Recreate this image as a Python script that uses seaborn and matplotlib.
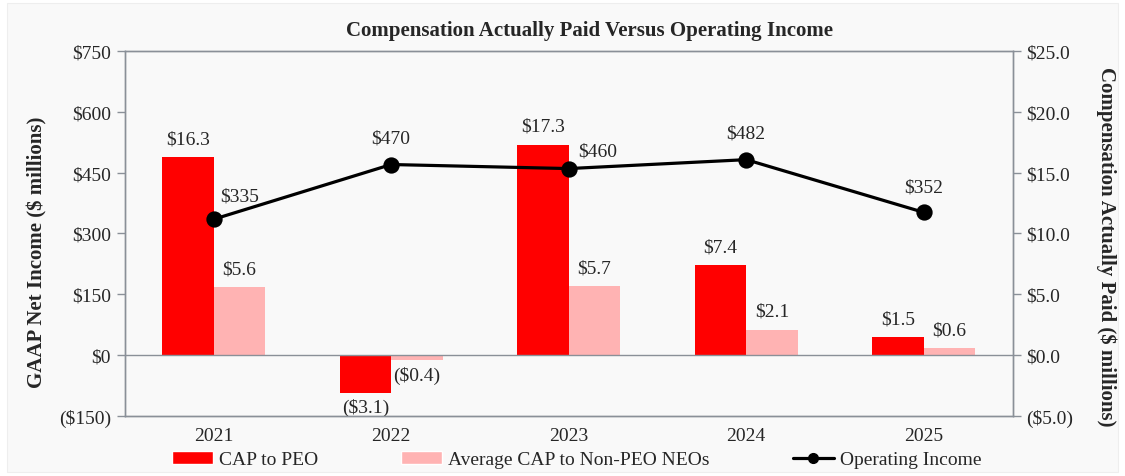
import matplotlib
matplotlib.use("Agg")
import matplotlib.pyplot as plt
import seaborn as sns
import pandas as pd
import numpy as np
from matplotlib.patches import Patch, Rectangle
from matplotlib.lines import Line2D
from matplotlib.ticker import FuncFormatter

years = ["2021", "2022", "2023", "2024", "2025"]
cap_peo = [16.3, -3.1, 17.3, 7.4, 1.5]
cap_neo = [5.6, -0.4, 5.7, 2.1, 0.6]
op_income = [335, 470, 460, 482, 352]
series_names = ["CAP to PEO", "Average CAP to Non-PEO NEOs"]
line_name = "Operating Income"
bar_colors = ["#FF0000", "#FFB3B3"]

sns.set_theme(style="white")
plt.rcParams["font.family"] = ["Liberation Serif", "DejaVu Serif"]

FS = 14

fig = plt.figure(figsize=(11.25, 4.77), dpi=100)
fig.patch.set_facecolor("white")
fig.patches.append(Rectangle((0.006, 0.008), 0.988, 0.984, transform=fig.transFigure,
                             facecolor="#f9f9f9", edgecolor="#eeeeee", lw=0.8, zorder=-10))

ax1 = fig.add_axes([0.111, 0.126, 0.789, 0.765])
ax2 = ax1.twinx()

df = pd.DataFrame({
    "year": years * 2,
    "value": cap_peo + cap_neo,
    "series": [series_names[0]] * len(years) + [series_names[1]] * len(years),
})
sns.barplot(data=df, x="year", y="value", hue="series", palette=bar_colors,
            width=0.58, gap=0, saturation=1, ax=ax2, legend=False, edgecolor="none")
sns.pointplot(x=years, y=op_income, color="black", markers="o", ax=ax1,
              linewidth=2.3, markersize=10)

ax1.set_ylim(-150, 750)
ax2.set_ylim(-5, 25)
ax1.set_xlim(-0.5, 4.5)
ax1.set_yticks(np.arange(-150, 751, 150))
ax2.set_yticks(np.arange(-5, 25.1, 5))
ax1.yaxis.set_major_formatter(FuncFormatter(lambda v, p: f"(${abs(v):.0f})" if v < 0 else f"${v:.0f}"))
ax2.yaxis.set_major_formatter(FuncFormatter(lambda v, p: f"(${abs(v):.1f})" if v < 0 else f"${v:.1f}"))

ax1.set_zorder(ax2.get_zorder() + 1)
ax1.patch.set_visible(False)
ax2.patch.set_facecolor("#f9f9f9")

for ax in (ax1, ax2):
    for s in ax.spines.values():
        s.set_color("#8a9098")
        s.set_linewidth(1.0)
    ax.set_xlabel("")
    ax.set_ylabel("")
    ax.tick_params(axis="y", labelsize=FS, length=6, color="#8a9098", width=1, direction="out", pad=4)
    ax.tick_params(axis="x", labelsize=FS, length=0, pad=8)
ax1.tick_params(axis="y", left=True, right=False)
ax2.tick_params(axis="y", right=True, left=False)
ax1.axhline(0, color="#8a9098", lw=1.0, zorder=0)

# bar labels
for i, cont in enumerate(ax2.containers):
    vals = cap_peo if i == 0 else cap_neo
    for bar, v in zip(cont, vals):
        cx = bar.get_x() + bar.get_width() / 2
        txt = f"${v:.1f}" if v >= 0 else f"(${abs(v):.1f})"
        if v >= 0:
            ax2.annotate(txt, (cx, v), xytext=(0, 7), textcoords="offset points",
                         ha="center", va="bottom", fontsize=FS)
        else:
            ax2.annotate(txt, (cx, v), xytext=(0, -4), textcoords="offset points",
                         ha="center", va="top", fontsize=FS)

# line labels
offsets = [(19, 17), (0, 19), (21, 13), (0, 19), (0, 18)]
for i, (v, off) in enumerate(zip(op_income, offsets)):
    ax1.annotate(f"${v}", (i, v), xytext=off, textcoords="offset points",
                 ha="center", va="center", fontsize=FS)

fig.text(0.524, 0.935, "Compensation Actually Paid Versus Operating Income",
         ha="center", va="center", fontsize=15, fontweight="bold")
fig.text(0.033, 0.472, "GAAP Net Income ($ millions)", rotation=90,
         ha="center", va="center", fontsize=15, fontweight="bold")
fig.text(0.983, 0.483, "Compensation Actually Paid ($ millions)", rotation=270,
         ha="center", va="center", fontsize=15, fontweight="bold")

handles = [Patch(facecolor=bar_colors[0]), Patch(facecolor=bar_colors[1]),
           Line2D([], [], color="black", lw=2.3, marker="o", markersize=7)]
labels = series_names + [line_name]
fig.legend(handles, labels, loc="center", bbox_to_anchor=(0.5125, 0.034), ncol=3,
           frameon=False, fontsize=FS, columnspacing=4.3, handlelength=2.1,
           handleheight=0.6, handletextpad=0.3, borderpad=0, borderaxespad=0)

fig.savefig("out.png", dpi=100, facecolor=fig.get_facecolor())
